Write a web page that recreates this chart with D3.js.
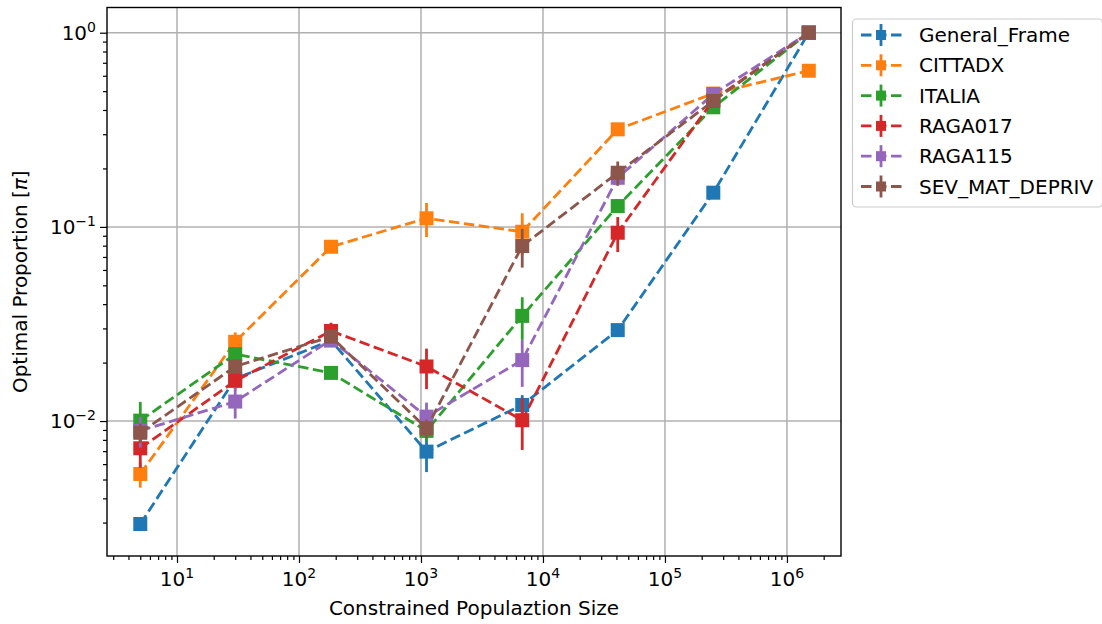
<!DOCTYPE html>
<html>
<head>
<meta charset="utf-8">
<script src="https://cdn.jsdelivr.net/npm/d3@7"></script>
<style>
  body { margin: 0; background: #fff; }
  text { font-family: "DejaVu Sans", sans-serif; }
</style>
</head>
<body>
<div id="chart"></div>
<script>
// DATA

const sizes = [5, 30, 183, 1110, 6760, 41000, 249000, 1510000];

const seriesNames = ["General_Frame", "CITTADX", "ITALIA", "RAGA017", "RAGA115", "SEV_MAT_DEPRIV"];
const seriesColors = ["#1f77b4", "#ff7f0e", "#2ca02c", "#d62728", "#9467bd", "#8c564b"];

const generalFrame = [0.00295, 0.0165, 0.026, 0.00696, 0.0121, 0.0294, 0.150, 1.0];
const cittadx      = [0.00534, 0.0256, 0.079, 0.1107, 0.0944, 0.318, 0.486, 0.637];
const italia       = [0.01005, 0.0221, 0.0177, 0.0089, 0.0348, 0.128, 0.413, 1.0];
const raga017      = [0.00724, 0.0161, 0.0291, 0.0191, 0.0101, 0.0933, 0.45, 1.0];
const raga115      = [0.0089, 0.0126, 0.0262, 0.01054, 0.0206, 0.179, 0.483, 1.0];
const sevMatDepriv = [0.0087, 0.0191, 0.0272, 0.00918, 0.0797, 0.190, 0.445, 1.0];

// symmetric error (half width, linear units)
const generalFrameErr = [0, 0, 0.001, 0.0015, 0.0015, 0.001, 0.005, 0];
const cittadxErr      = [0.0008, 0.003, 0.003, 0.022, 0.023, 0.02, 0.02, 0.01];
const italiaErr       = [0.0025, 0.0015, 0.001, 0.001, 0.0086, 0.01, 0.02, 0];
const raga017Err      = [0.0015, 0.0015, 0.003, 0.0045, 0.003, 0.019, 0.02, 0];
const raga115Err      = [0.0016, 0.0023, 0.001, 0.0019, 0.0056, 0.015, 0.02, 0];
const sevMatDeprivErr = [0.001, 0.0015, 0.001, 0.001, 0.018, 0.027, 0.02, 0];

const xMajorTicks = [1e1, 1e2, 1e3, 1e4, 1e5, 1e6];
const yMajorTicks = [1e-2, 1e-1, 1e0];
const xTickExps = ["1", "2", "3", "4", "5", "6"];
const yTickExps = ["\u22122", "\u22121", "0"];

const xLabel = "Constrained Populaztion Size";
const yLabel = "Optimal Proportion [";

// SETUP

const setup = {
  width: 1102,
  height: 624,
  left: 107,
  right: 841,
  top: 7.5,
  bottom: 556,
  marker: 14,
  fontSize: 20,
  supSize: 14,
};

const allValues = [generalFrame, cittadx, italia, raga017, raga115, sevMatDepriv];
const allErrors = [generalFrameErr, cittadxErr, italiaErr, raga017Err, raga115Err, sevMatDeprivErr];

const series = seriesNames.map((name, i) => ({
  name: name,
  color: seriesColors[i],
  points: sizes.map((s, j) => ({ x: s, y: allValues[i][j], e: allErrors[i][j] })),
}));

const x = d3.scaleLog()
  .domain([Math.pow(10, 0.4262), Math.pow(10, 6.443)])
  .range([setup.left, setup.right]);

const y = d3.scaleLog()
  .domain([Math.pow(10, -2.695), Math.pow(10, 0.1298)])
  .range([setup.bottom, setup.top]);

function minorTicks(scale) {
  const [a, b] = scale.domain();
  const out = [];
  for (let k = Math.floor(Math.log10(a)); k <= Math.ceil(Math.log10(b)); k++) {
    for (let m = 2; m <= 9; m++) {
      const v = m * Math.pow(10, k);
      if (v >= a && v <= b) out.push(v);
    }
  }
  return out;
}

// SVG

const svg = d3.select("#chart")
  .append("svg")
  .attr("width", setup.width)
  .attr("height", setup.height);

svg.append("defs").append("clipPath").attr("id", "plotclip")
  .append("rect")
  .attr("x", setup.left).attr("y", setup.top)
  .attr("width", setup.right - setup.left)
  .attr("height", setup.bottom - setup.top);

// GRID

svg.append("g").selectAll("line")
  .data(xMajorTicks)
  .join("line")
  .attr("x1", d => x(d)).attr("x2", d => x(d))
  .attr("y1", setup.top).attr("y2", setup.bottom)
  .attr("stroke", "#b0b0b0").attr("stroke-width", 1.5);

svg.append("g").selectAll("line")
  .data(yMajorTicks)
  .join("line")
  .attr("x1", setup.left).attr("x2", setup.right)
  .attr("y1", d => y(d)).attr("y2", d => y(d))
  .attr("stroke", "#b0b0b0").attr("stroke-width", 1.5);

// SERIES

const plot = svg.append("g").attr("clip-path", "url(#plotclip)");

const line = d3.line().x(d => x(d.x)).y(d => y(d.y));

series.forEach(s => {
  const g = plot.append("g");

  g.append("path")
    .datum(s.points)
    .attr("d", line)
    .attr("fill", "none")
    .attr("stroke", s.color)
    .attr("stroke-width", 2.8)
    .attr("stroke-dasharray", "10.5,4.5");

  g.selectAll(".err")
    .data(s.points.filter(p => p.e > 0))
    .join("line")
    .attr("x1", d => x(d.x)).attr("x2", d => x(d.x))
    .attr("y1", d => y(d.y + d.e))
    .attr("y2", d => y(Math.max(d.y - d.e, 1e-4)))
    .attr("stroke", s.color)
    .attr("stroke-width", 2.8);

  g.selectAll(".mk")
    .data(s.points)
    .join("rect")
    .attr("x", d => x(d.x) - setup.marker / 2)
    .attr("y", d => y(d.y) - setup.marker / 2)
    .attr("width", setup.marker)
    .attr("height", setup.marker)
    .attr("fill", s.color);
});

// AXES

svg.append("g")
  .attr("transform", `translate(0,${setup.bottom})`)
  .call(d3.axisBottom(x).tickValues(xMajorTicks).tickSize(7).tickSizeOuter(0).tickFormat(""));

svg.append("g")
  .attr("transform", `translate(0,${setup.bottom})`)
  .call(d3.axisBottom(x).tickValues(minorTicks(x)).tickSize(4).tickSizeOuter(0).tickFormat(""));

svg.append("g")
  .attr("transform", `translate(${setup.left},0)`)
  .call(d3.axisLeft(y).tickValues(yMajorTicks).tickSize(7).tickSizeOuter(0).tickFormat(""));

svg.append("g")
  .attr("transform", `translate(${setup.left},0)`)
  .call(d3.axisLeft(y).tickValues(minorTicks(y)).tickSize(4).tickSizeOuter(0).tickFormat(""));

svg.selectAll(".domain").remove();
svg.selectAll(".tick line").attr("stroke", "#000").attr("stroke-width", 1.2);

// frame
svg.append("rect")
  .attr("x", setup.left).attr("y", setup.top)
  .attr("width", setup.right - setup.left)
  .attr("height", setup.bottom - setup.top)
  .attr("fill", "none")
  .attr("stroke", "#000")
  .attr("stroke-width", 1.4);

// tick labels
xMajorTicks.forEach((v, i) => {
  const t = svg.append("text")
    .attr("x", x(v))
    .attr("y", setup.bottom + 30)
    .attr("text-anchor", "middle")
    .style("font-size", setup.fontSize + "px");
  t.append("tspan").text("10");
  t.append("tspan").attr("dy", -8).style("font-size", setup.supSize + "px").text(xTickExps[i]);
});

yMajorTicks.forEach((v, i) => {
  const t = svg.append("text")
    .attr("x", setup.left - 11)
    .attr("y", y(v) + 7)
    .attr("text-anchor", "end")
    .style("font-size", setup.fontSize + "px");
  t.append("tspan").text("10");
  t.append("tspan").attr("dy", -8).style("font-size", setup.supSize + "px").text(yTickExps[i]);
});

// axis titles
svg.append("text")
  .attr("x", (setup.left + setup.right) / 2)
  .attr("y", 615)
  .attr("text-anchor", "middle")
  .style("font-size", setup.fontSize + "px")
  .text(xLabel);

const yl = svg.append("text")
  .attr("transform", `translate(27,${(setup.top + setup.bottom) / 2}) rotate(-90)`)
  .attr("text-anchor", "middle")
  .style("font-size", setup.fontSize + "px");
yl.append("tspan").text(yLabel);
yl.append("tspan").style("font-style", "italic").text("\u03c0");
yl.append("tspan").text("]");

// LEGEND

const legend = svg.append("g");

legend.append("rect")
  .attr("x", 852.5).attr("y", 19)
  .attr("width", 250).attr("height", 188)
  .attr("rx", 4)
  .attr("fill", "#fff")
  .attr("fill-opacity", 0.8)
  .attr("stroke", "#cccccc")
  .attr("stroke-width", 1.2);

series.forEach((s, i) => {
  const cy = 35 + i * 30.3;
  legend.append("line")
    .attr("x1", 861).attr("x2", 902)
    .attr("y1", cy).attr("y2", cy)
    .attr("stroke", s.color).attr("stroke-width", 2.8)
    .attr("stroke-dasharray", "10.5,4.5");
  legend.append("line")
    .attr("x1", 881).attr("x2", 881)
    .attr("y1", cy - 11).attr("y2", cy + 11)
    .attr("stroke", s.color).attr("stroke-width", 2.8);
  legend.append("rect")
    .attr("x", 881 - 5).attr("y", cy - 5)
    .attr("width", 10).attr("height", 10)
    .attr("fill", s.color);
  legend.append("text")
    .attr("x", 919).attr("y", cy + 7)
    .style("font-size", setup.fontSize + "px")
    .text(s.name);
});
</script>
</body>
</html>
